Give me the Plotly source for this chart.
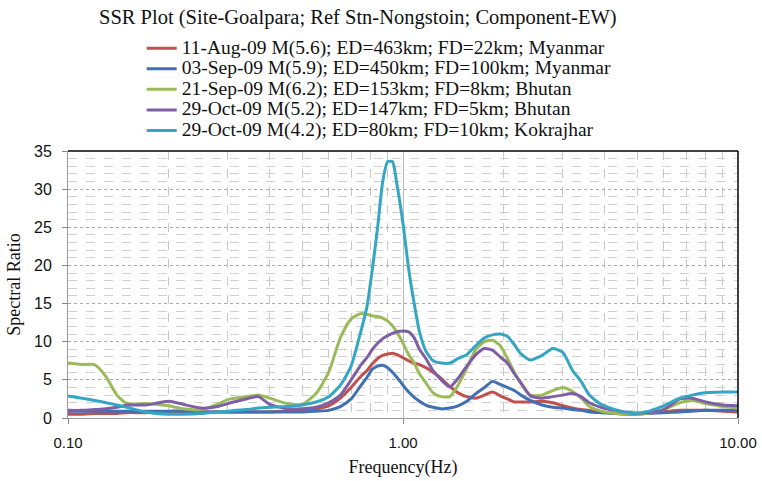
import plotly.graph_objects as go

# Frequency samples (Hz) shared by all curves
FREQ = [0.10, 0.11, 0.12, 0.13, 0.14, 0.15, 0.17, 0.20, 0.22, 0.25, 0.28, 0.30,
        0.34, 0.37, 0.40, 0.45, 0.50, 0.55, 0.60, 0.65, 0.70, 0.75, 0.78, 0.81,
        0.84, 0.87, 0.90, 0.93, 0.96, 1.00, 1.04, 1.08, 1.12, 1.17, 1.23, 1.30,
        1.38, 1.46, 1.55, 1.65, 1.75, 1.85, 1.95, 2.05, 2.15, 2.25, 2.40, 2.60,
        2.80, 3.00, 3.20, 3.40, 3.60, 3.90, 4.30, 4.80, 5.30, 6.00, 6.70, 7.30,
        8.00, 9.00, 10.00]

# Spectral ratios per event
AUG11_MYANMAR = [0.5, 0.5, 0.6, 0.6, 0.6, 0.7, 0.7, 0.8, 0.8, 0.8, 0.8, 0.8,
                 0.8, 0.8, 0.8, 0.9, 1.0, 1.2, 1.6, 2.6, 4.0, 5.5, 6.2, 7.1,
                 7.8, 8.2, 8.4, 8.5, 8.3, 7.9, 7.5, 7.2, 7.0, 6.6, 6.0, 5.2,
                 4.1, 3.3, 2.8, 2.6, 3.0, 3.4, 2.9, 2.5, 2.1, 2.1, 2.1, 2.2,
                 2.0, 1.6, 1.3, 1.1, 1.0, 0.8, 0.6, 0.5, 0.6, 0.8, 1.0, 1.0,
                 1.0, 0.9, 0.8]

SEP03_MYANMAR = [0.9, 0.9, 0.9, 0.9, 0.9, 0.9, 0.9, 0.9, 0.9, 0.8, 0.8, 0.8,
                 0.8, 0.8, 0.8, 0.8, 0.8, 0.9, 1.0, 1.5, 2.5, 4.3, 5.3, 6.4,
                 6.8, 6.9, 6.6, 6.0, 5.3, 4.3, 3.4, 2.7, 2.2, 1.7, 1.4, 1.2,
                 1.3, 1.6, 2.2, 3.2, 4.0, 4.8, 4.4, 4.0, 3.6, 3.0, 2.3, 1.7,
                 1.4, 1.3, 1.1, 1.0, 0.8, 0.7, 0.6, 0.5, 0.6, 0.7, 0.8, 0.9,
                 1.0, 1.0, 1.0]

SEP21_BHUTAN = [7.2, 7.0, 7.0, 5.4, 3.0, 1.9, 1.9, 1.6, 1.2, 1.1, 1.8, 2.4,
                2.8, 3.0, 2.6, 1.9, 1.8, 3.2, 6.0, 10.5, 13.0, 13.7, 13.6, 13.4,
                13.3, 13.1, 12.7, 12.1, 11.2, 9.8, 8.3, 7.2, 5.8, 4.6, 3.3, 2.8,
                2.8, 4.3, 6.5, 9.0, 10.0, 10.2, 9.5, 7.8, 6.0, 4.5, 3.0, 3.0,
                3.6, 4.0, 3.5, 2.6, 1.5, 0.9, 0.6, 0.5, 0.6, 1.1, 2.0, 2.3,
                1.9, 1.5, 1.3]

OCT29_BHUTAN = [1.0, 1.0, 1.1, 1.2, 1.4, 1.7, 1.7, 2.2, 1.8, 1.3, 1.5, 1.9,
                2.5, 2.8, 1.8, 1.2, 1.2, 1.4, 2.0, 3.0, 5.0, 7.0, 7.9, 9.0,
                9.8, 10.4, 10.8, 11.1, 11.3, 11.4, 11.3, 10.5, 9.0, 7.8, 6.2, 5.0,
                4.1, 5.2, 6.8, 8.3, 9.1, 8.9, 8.0, 7.2, 5.8, 4.6, 2.9, 2.6,
                2.8, 3.0, 3.2, 2.8, 2.0, 1.4, 1.0, 0.7, 0.7, 1.1, 2.5, 2.6,
                2.1, 1.7, 1.6]

OCT29_KOKRAJHAR = [2.9, 2.6, 2.3, 2.0, 1.7, 1.4, 0.8, 0.5, 0.5, 0.6, 0.8, 0.9,
                   1.1, 1.3, 1.4, 1.5, 1.7, 2.1, 2.8, 4.3, 6.8, 11.5, 14.5, 19.5,
                   25.0, 31.0, 33.6, 33.6, 30.5, 25.5, 19.5, 15.0, 11.3, 8.8, 7.5, 7.2,
                   7.2, 7.8, 8.3, 9.5, 10.5, 10.9, 11.0, 10.7, 9.6, 8.4, 7.6, 8.2,
                   9.1, 8.6, 6.3, 4.8, 3.0, 1.8, 1.1, 0.6, 0.8, 1.6, 2.6, 3.0,
                   3.3, 3.4, 3.4]

SERIES = [
    ("11-Aug-09 M(5.6); ED=463km; FD=22km; Myanmar", AUG11_MYANMAR, "#C0504D"),
    ("03-Sep-09 M(5.9); ED=450km; FD=100km; Myanmar", SEP03_MYANMAR, "#3F6FB5"),
    ("21-Sep-09 M(6.2); ED=153km; FD=8km; Bhutan", SEP21_BHUTAN, "#9BBB59"),
    ("29-Oct-09 M(5.2); ED=147km; FD=5km; Bhutan", OCT29_BHUTAN, "#7E5FA6"),
    ("29-Oct-09 M(4.2); ED=80km; FD=10km; Kokrajhar", OCT29_KOKRAJHAR, "#34A6C4"),
]

X_TICKS = [0.1, 1, 10]
X_TICK_TEXT = ["0.10", "1.00", "10.00"]
X_MINOR = [0.2, 0.3, 0.4, 0.5, 0.6, 0.7, 0.8, 0.9, 2, 3, 4, 5, 6, 7, 8, 9]

SERIF = "Liberation Serif"
SANS = "Liberation Sans"

fig = go.Figure()
for name, vals, color in SERIES:
    # legend rows are packed tightly; the label itself is set larger
    fig.add_trace(go.Scatter(
        x=FREQ, y=vals, mode="lines",
        name=f'<span style="font-size:19.5px">{name}</span>',
        line=dict(color=color, width=3, shape="spline", smoothing=0.6),
    ))

fig.update_layout(
    width=762, height=481,
    margin=dict(l=68, r=24, t=151, b=63),
    paper_bgcolor="white", plot_bgcolor="white",
    showlegend=True,
    legend=dict(
        x=0.110, y=1.442, xanchor="left", yanchor="top",
        font=dict(family=SERIF, size=13.5, color="#111"),
        bgcolor="rgba(0,0,0,0)", tracegroupgap=0,
    ),
    annotations=[dict(
        text="SSR Plot (Site-Goalpara; Ref Stn-Nongstoin; Component-EW)",
        xref="paper", yref="paper", x=0.043, y=1.50,
        xanchor="left", yanchor="middle", showarrow=False,
        font=dict(family=SERIF, size=20.5, color="#111"),
    )],
    shapes=[
        dict(type="line", xref="paper", yref="paper", x0=0, x1=1, y0=1, y1=1,
             line=dict(color="black", width=1.5)),
        dict(type="line", xref="paper", yref="paper", x0=1, x1=1, y0=0, y1=1,
             line=dict(color="black", width=1.5)),
    ],
)

fig.update_xaxes(
    type="log", range=[-1, 1], automargin=False,
    tickvals=X_TICKS, ticktext=X_TICK_TEXT,
    tickfont=dict(family=SANS, size=15, color="#111"),
    ticks="outside", ticklen=5, tickcolor="#888", ticklabelstandoff=6,
    showline=True, linecolor="#999", linewidth=1,
    showgrid=True, gridcolor="#bbb", gridwidth=1,
    minor=dict(tickvals=X_MINOR, showgrid=True, gridcolor="#c8c8c8",
               griddash="dash", ticks=""),
    title=dict(text="Frequency(Hz)", font=dict(family=SERIF, size=18, color="#111"),
               standoff=10),
    zeroline=False,
)

fig.update_yaxes(
    range=[0, 35], dtick=5, tick0=0, automargin=False,
    tickfont=dict(family=SANS, size=16, color="#111"),
    ticks="outside", ticklen=5, tickcolor="#888", ticklabelstandoff=7,
    showline=True, linecolor="#999", linewidth=1,
    showgrid=True, gridcolor="#aaa", gridwidth=1, griddash="dot",
    minor=dict(dtick=1, showgrid=True, gridcolor="#cfcfcf", griddash="dash", ticks=""),
    title=dict(text="Spectral Ratio", font=dict(family=SERIF, size=18, color="#111"),
               standoff=8),
    zeroline=False,
)

fig.write_html("out.html")
